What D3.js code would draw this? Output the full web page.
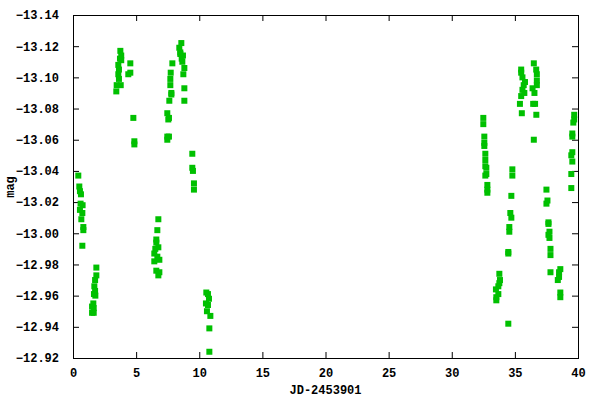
<!DOCTYPE html>
<html><head><meta charset="utf-8">
<script src="https://cdn.jsdelivr.net/npm/d3@7"></script>
<style>body{margin:0;background:#fff}text{font-family:"Liberation Mono","DejaVu Sans Mono",monospace;font-weight:bold;font-size:12px}</style>
</head><body>
<script>
const xTicks = [0,5,10,15,20,25,30,35,40];
const yTicks = [-13.14,-13.12,-13.10,-13.08,-13.06,-13.04,-13.02,-13.00,-12.98,-12.96,-12.94,-12.92];
const jd = [
 0.42,0.50,0.55,0.63,0.60,0.76,0.55,0.74,0.66,0.82,0.82,0.74,
 1.85,1.85,1.75,1.69,1.75,1.66,1.77,1.61,1.51,1.64,1.51,1.64,
 3.75,3.82,3.72,3.82,3.59,3.64,3.59,3.64,3.46,3.78,3.43,4.54,4.54,4.38,4.78,4.86,4.86,
 8.58,8.42,8.50,8.50,8.71,8.61,8.66,8.82,7.87,7.74,8.74,7.71,7.71,7.79,7.79,8.82,7.63,8.82,7.47,7.60,7.55,7.47,7.60,7.47,
 9.45,9.45,9.50,9.58,9.58,
 6.76,6.68,6.60,6.60,6.76,6.52,6.44,6.68,6.84,6.44,6.60,6.84,6.76,
 10.56,10.69,10.77,10.53,10.69,10.61,10.88,10.80,10.80,
 32.5,32.5,32.58,32.58,32.58,32.66,32.66,32.66,32.74,32.74,32.66,32.82,32.82,32.82,
 33.77,33.82,33.77,33.69,33.50,33.69,33.53,33.53,34.48,
 34.80,34.80,34.72,34.64,34.72,34.56,34.56,34.48,34.48,
 35.5,35.5,35.6,35.7,35.6,35.75,35.5,35.4,35.55,35.8,
 36.5,36.69,36.74,36.74,36.74,36.4,36.55,36.6,36.45,36.7,36.5,
 37.5,37.58,37.5,37.66,37.66,37.74,37.66,37.74,37.82,37.82,37.82,
 38.6,38.5,38.5,38.4,38.6,38.6,
 39.7,39.7,39.63,39.55,39.55,39.55,39.47,39.55,39.47,39.47
];
const mag = [
 -13.037,-13.030,-13.027,-13.025,-13.019,-13.018,-13.015,-13.013,-13.009,-13.004,-13.002,-12.992,
 -12.978,-12.973,-12.970,-12.966,-12.963,-12.961,-12.960,-12.955,-12.953,-12.952,-12.949,-12.949,
 -13.117,-13.114,-13.112,-13.111,-13.108,-13.105,-13.102,-13.099,-13.095,-13.095,-13.091,-13.109,-13.103,-13.102,-13.074,-13.059,-13.057,
 -13.122,-13.119,-13.116,-13.115,-13.114,-13.112,-13.110,-13.106,-13.109,-13.103,-13.102,-13.099,-13.095,-13.090,-13.089,-13.093,-13.085,-13.085,-13.077,-13.074,-13.073,-13.062,-13.062,-13.060,
 -13.051,-13.042,-13.040,-13.032,-13.028,
 -13.009,-13.002,-12.996,-12.994,-12.991,-12.990,-12.987,-12.985,-12.983,-12.982,-12.976,-12.975,-12.973,
 -12.962,-12.961,-12.958,-12.955,-12.954,-12.950,-12.947,-12.939,-12.924,
 -13.074,-13.070,-13.062,-13.058,-13.056,-13.051,-13.047,-13.043,-13.042,-13.038,-13.037,-13.031,-13.028,-13.026,
 -12.974,-12.970,-12.968,-12.966,-12.964,-12.961,-12.959,-12.957,-12.942,
 -13.041,-13.037,-13.024,-13.013,-13.010,-13.004,-13.001,-12.988,-12.987,
 -13.105,-13.103,-13.100,-13.095,-13.092,-13.090,-13.088,-13.083,-13.077,-13.097,
 -13.109,-13.105,-13.102,-13.098,-13.095,-13.093,-13.090,-13.083,-13.083,-13.076,-13.060,
 -13.028,-13.021,-13.019,-13.007,-13.006,-13.001,-12.999,-12.997,-12.990,-12.986,-12.975,
 -12.977,-12.975,-12.972,-12.970,-12.962,-12.959,
 -13.076,-13.073,-13.071,-13.064,-13.062,-13.052,-13.050,-13.046,-13.038,-13.029
];

const W=600,H=400, L=73,R=578,T=15,B=358;
const svg=d3.select("body").append("svg").attr("width",W).attr("height",H);
const x=d3.scaleLinear().domain([0,40]).range([L,R]);
const y=d3.scaleLinear().domain([-13.14,-12.92]).range([T,B]);
const fmt=d3.format(".2f");

svg.append("g").attr("transform",`translate(0,${B})`)
 .call(d3.axisBottom(x).tickValues(xTicks).tickSize(-6).tickPadding(10).tickFormat(d3.format("d")))
 .call(g=>{g.select(".domain").remove();g.selectAll("text").attr("fill","#000").style("font-size","12px");});
svg.append("g").attr("transform",`translate(0,${T})`)
 .call(d3.axisTop(x).tickValues(xTicks).tickSize(-6).tickFormat(""))
 .call(g=>g.select(".domain").remove());
svg.append("g").attr("transform",`translate(${L},0)`)
 .call(d3.axisLeft(y).tickValues(yTicks).tickSize(-6).tickPadding(14).tickFormat(fmt))
 .call(g=>{g.select(".domain").remove();g.selectAll("text").attr("fill","#000").style("font-size","12px");});
svg.append("g").attr("transform",`translate(${R},0)`)
 .call(d3.axisRight(y).tickValues(yTicks).tickSize(-6).tickFormat(""))
 .call(g=>g.select(".domain").remove());
svg.selectAll(".tick line").attr("stroke","#000");

svg.append("rect").attr("x",L+0.5).attr("y",T+0.5).attr("width",R-L).attr("height",B-T)
 .attr("fill","none").attr("stroke","#000");

svg.append("g").selectAll("rect").data(jd.map((d,i)=>[d,mag[i]])).join("rect")
 .attr("x",d=>x(d[0])-3).attr("y",d=>y(d[1])-3).attr("width",6).attr("height",6)
 .attr("fill","#00c000");

svg.append("text").attr("x",(L+R)/2).attr("y",394).attr("text-anchor","middle").text("JD-2453901");
svg.append("text").attr("transform","translate(14,187) rotate(-90)").attr("text-anchor","middle").text("mag");
</script>
</body></html>
